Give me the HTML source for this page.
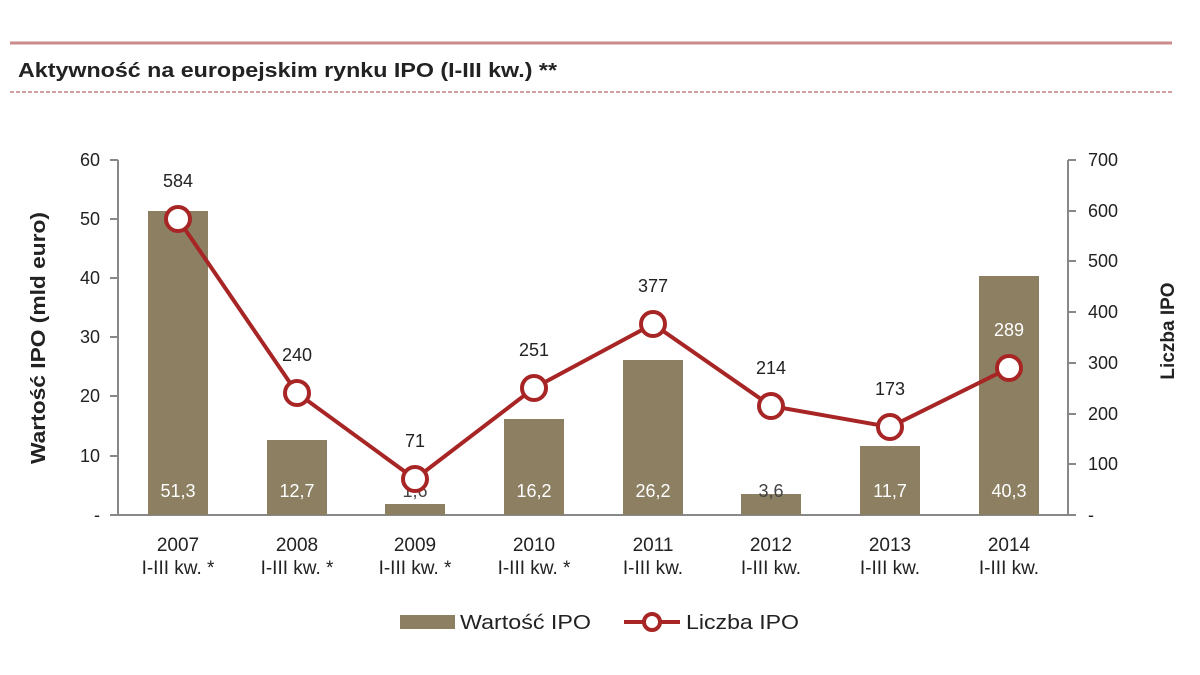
<!DOCTYPE html>
<html><head><meta charset="utf-8"><style>
body{margin:0;background:#fff;}
svg{display:block;font-family:"Liberation Sans",Arial,sans-serif;}
</style></head><body>
<svg width="1200" height="675" viewBox="0 0 1200 675">
<line x1="10" y1="43" x2="1172" y2="43" stroke="#c98b8b" stroke-width="3"/>
<text x="18" y="77" font-size="20" font-weight="bold" fill="#222" textLength="539" lengthAdjust="spacingAndGlyphs">Aktywność na europejskim rynku IPO (I-III kw.) **</text>
<line x1="10" y1="92" x2="1172" y2="92" stroke="#d4a0a0" stroke-width="2" stroke-dasharray="4,2"/>
<line x1="118" y1="160" x2="118" y2="515" stroke="#888" stroke-width="2"/>
<line x1="118" y1="515" x2="1068" y2="515" stroke="#888" stroke-width="2"/>
<line x1="1068" y1="160" x2="1068" y2="515" stroke="#888" stroke-width="2"/>
<g stroke="#888" stroke-width="2">
<line x1="110" y1="160" x2="118" y2="160"/><line x1="110" y1="219" x2="118" y2="219"/><line x1="110" y1="278" x2="118" y2="278"/><line x1="110" y1="337" x2="118" y2="337"/><line x1="110" y1="396" x2="118" y2="396"/><line x1="110" y1="456" x2="118" y2="456"/><line x1="110" y1="515" x2="118" y2="515"/>
<line x1="1068" y1="160" x2="1076" y2="160"/><line x1="1068" y1="211" x2="1076" y2="211"/><line x1="1068" y1="261" x2="1076" y2="261"/><line x1="1068" y1="312" x2="1076" y2="312"/><line x1="1068" y1="363" x2="1076" y2="363"/><line x1="1068" y1="414" x2="1076" y2="414"/><line x1="1068" y1="464" x2="1076" y2="464"/><line x1="1068" y1="515" x2="1076" y2="515"/>
</g>
<g font-size="18" fill="#222" text-anchor="end">
<text x="100" y="166">60</text><text x="100" y="225">50</text><text x="100" y="284">40</text><text x="100" y="343">30</text><text x="100" y="402">20</text><text x="100" y="462">10</text><text x="100" y="521">-</text>
</g>
<g font-size="18" fill="#222" text-anchor="start">
<text x="1088" y="166">700</text><text x="1088" y="217">600</text><text x="1088" y="267">500</text><text x="1088" y="318">400</text><text x="1088" y="369">300</text><text x="1088" y="420">200</text><text x="1088" y="470">100</text><text x="1088" y="521">-</text>
</g>
<text transform="translate(45,338) rotate(-90)" font-size="20" font-weight="bold" text-anchor="middle" fill="#222" textLength="252" lengthAdjust="spacingAndGlyphs">Wartość IPO (mld euro)</text>
<text transform="translate(1174,331) rotate(-90)" font-size="19" font-weight="bold" text-anchor="middle" fill="#222">Liczba IPO</text>
<g fill="#8c7f62">
<rect x="148" y="211" width="60" height="304"/>
<rect x="267" y="440" width="60" height="75"/>
<rect x="385" y="504" width="60" height="11"/>
<rect x="504" y="419" width="60" height="96"/>
<rect x="623" y="360" width="60" height="155"/>
<rect x="741" y="494" width="60" height="21"/>
<rect x="860" y="446" width="60" height="69"/>
<rect x="979" y="276" width="60" height="239"/>
</g>
<g font-size="18" fill="#fff" text-anchor="middle">
<text x="178" y="497">51,3</text><text x="297" y="497">12,7</text><text x="415" y="497" fill="#444">1,6</text><text x="534" y="497">16,2</text><text x="653" y="497">26,2</text><text x="771" y="497" fill="#444">3,6</text><text x="890" y="497">11,7</text><text x="1009" y="497">40,3</text>
</g>
<polyline points="178,219 297,393 415,479 534,388 653,324 771,406 890,427 1009,368" fill="none" stroke="#a82525" stroke-width="4"/>
<g fill="#fff" stroke="#a82525" stroke-width="4">
<circle cx="178" cy="219" r="12"/><circle cx="297" cy="393" r="12"/><circle cx="415" cy="479" r="12"/><circle cx="534" cy="388" r="12"/><circle cx="653" cy="324" r="12"/><circle cx="771" cy="406" r="12"/><circle cx="890" cy="427" r="12"/><circle cx="1009" cy="368" r="12"/>
</g>
<g font-size="18" fill="#222" text-anchor="middle">
<text x="178" y="187">584</text><text x="297" y="361">240</text><text x="415" y="447">71</text><text x="534" y="356">251</text><text x="653" y="292">377</text><text x="771" y="374">214</text><text x="890" y="395">173</text><text x="1009" y="336" fill="#fff">289</text>
</g>
<g font-size="19" fill="#222" text-anchor="middle">
<text x="178" y="551">2007</text><text x="178" y="574">I-III kw. *</text>
<text x="297" y="551">2008</text><text x="297" y="574">I-III kw. *</text>
<text x="415" y="551">2009</text><text x="415" y="574">I-III kw. *</text>
<text x="534" y="551">2010</text><text x="534" y="574">I-III kw. *</text>
<text x="653" y="551">2011</text><text x="653" y="574">I-III kw.</text>
<text x="771" y="551">2012</text><text x="771" y="574">I-III kw.</text>
<text x="890" y="551">2013</text><text x="890" y="574">I-III kw.</text>
<text x="1009" y="551">2014</text><text x="1009" y="574">I-III kw.</text>
</g>
<rect x="400" y="615" width="55" height="14" fill="#8c7f62"/>
<text x="460" y="629" font-size="20" fill="#222" textLength="131" lengthAdjust="spacingAndGlyphs">Wartość IPO</text>
<line x1="624" y1="622" x2="680" y2="622" stroke="#a82525" stroke-width="4"/>
<circle cx="652" cy="622" r="8" fill="#fff" stroke="#a82525" stroke-width="4"/>
<text x="686" y="629" font-size="20" fill="#222" textLength="113" lengthAdjust="spacingAndGlyphs">Liczba IPO</text>
</svg>
</body></html>
